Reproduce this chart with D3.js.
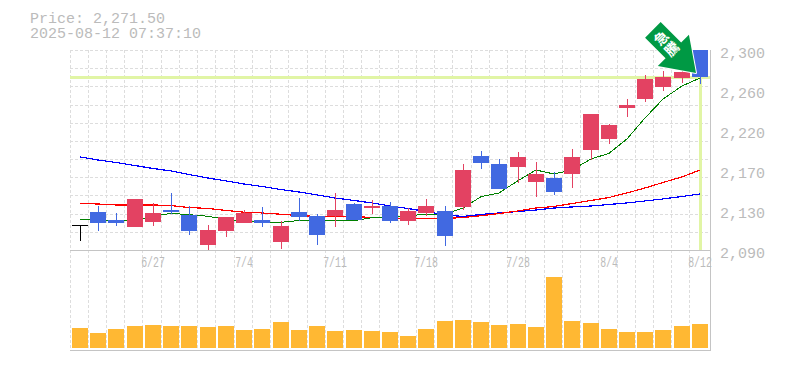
<!DOCTYPE html>
<html><head><meta charset="utf-8">
<script src="https://cdnjs.cloudflare.com/ajax/libs/d3/7.8.5/d3.min.js"></script>
<style>html,body{margin:0;padding:0;background:#fff}svg{display:block}text{font-family:"Liberation Mono",monospace;fill:#bbb}</style>
</head><body><svg id="c" width="785" height="370"></svg>
<script>
const dates=["6/20","6/23","6/24","6/25","6/26","6/27","6/30","7/1","7/2","7/4","7/7","7/8","7/9","7/10","7/11","7/14","7/15","7/16","7/17","7/18","7/22","7/23","7/24","7/25","7/28","7/29","7/30","7/31","8/1","8/4","8/5","8/6","8/7","8/8","8/12"];
const opens=[2116.3,2129.9,2121.5,2114.2,2119.4,2132,2126.8,2095.3,2110,2118.4,2121.5,2098.4,2129.9,2125.7,2125.7,2138.3,2134.1,2136.2,2120.5,2128.9,2131,2135.2,2188.7,2180.3,2177.2,2161.4,2165.6,2169.8,2195,2206.6,2239.1,2248.5,2261.2,2270.6,2300];
const highs=[2116.3,2136.2,2128.9,2143.6,2139.4,2149.9,2136.2,2116.3,2124.7,2132,2135.2,2120.5,2144.6,2127.8,2149.9,2139.4,2142.5,2140.4,2134.1,2143.6,2136.2,2180.3,2194,2185.6,2192.9,2182.4,2171.9,2196.1,2232.8,2222.3,2248.5,2273.8,2278,2284.3,2300];
const lows=[2099.5,2110,2115.5,2114.2,2115.2,2127.8,2105.8,2089,2103.7,2118.4,2114.2,2091.1,2120.5,2095.3,2114.2,2121.5,2127.8,2118.4,2116.3,2125.7,2094.2,2132,2175.1,2154.1,2160.4,2145.7,2147.8,2155.1,2184.5,2201.3,2229.7,2245.5,2257,2265.3,2264.3];
const closes=[2116.3,2118.7,2118.4,2143.6,2128.9,2129.6,2110,2111,2124.7,2128.9,2118.4,2115.2,2124.7,2105.8,2132,2121.5,2136.2,2120.5,2131,2136.2,2104.7,2174,2181.4,2154.1,2187.7,2169.8,2150.9,2187.7,2232.8,2221.3,2242.3,2269.5,2271.5,2277,2271.5];
const maShort=[2122.2,2121.5,2120.8,2121.5,2125.2,2128.5,2127.1,2125.4,2122,2120.5,2119.4,2119.1,2121,2120.8,2120.8,2120.8,2123.9,2124.1,2125.7,2127.8,2127.8,2134.1,2146,2149.9,2162.8,2174,2169.8,2174,2185.6,2191.5,2206.6,2228.6,2248.5,2262.2,2270.6];
const maMid=[2139,2138.3,2137.3,2137.3,2137.3,2136.7,2134.6,2133.6,2131.5,2129.7,2128.9,2127.5,2126.2,2125.2,2125.2,2124.9,2124.3,2123.6,2123.1,2123.1,2123.1,2124.1,2126,2128.3,2131,2134.1,2135.7,2138.8,2142,2145.1,2149.9,2155.1,2160.9,2166.7,2174];
const maLong=[2187.7,2184.5,2181.9,2178.7,2175.6,2173,2169.3,2165.6,2162.5,2159.3,2156.7,2153.5,2150.9,2147.8,2144.6,2142,2139.4,2136.2,2133.6,2130.4,2126.8,2125.2,2127.3,2128.9,2130.4,2132,2134.1,2135.2,2136.2,2137.8,2139.4,2141.5,2143.6,2146.2,2148.8];
const volumes=[20,15,19,22,23,22,22,21,22,18,19,26,18,22,17,18,17,16,12,19,27,28,26,23,24,21,71,27,25,19,16,16,18,22,24];
const priceTicks=[2300,2258,2216,2174,2132,2090];
const dateLabels=[[4,"6/27"],[9,"7/4"],[14,"7/11"],[19,"7/18"],[24,"7/28"],[29,"8/4"],[34,"8/12"]];
const currentPrice=2271.5;
const headerLines=["Price: 2,271.50","2025-08-12 07:37:10"];
const badgeText="急騰";

const svg=d3.select("#c");
const idx=d3.range(dates.length);
const x=d3.scaleBand().domain(idx).range([70,708.2]);
const y=d3.scaleLinear().domain([2090,2300]).range([250,50]);
const yv=d3.scaleLinear().domain([0,100]).range([348,248]);
const bx=i=>Math.round(x(i)+2), cx=i=>bx(i)+8;

const grid=svg.append("g").attr("stroke","#ddd").attr("stroke-dasharray","3 2").attr("shape-rendering","crispEdges");
d3.range(11).forEach(k=>{const v=2300-k*210/11;
 grid.append("line").attr("x1",70).attr("x2",710).attr("y1",Math.round(y(v))+.5).attr("y2",Math.round(y(v))+.5);});
idx.forEach(i=>{const g=Math.floor(x(i))+.5;grid.append("line").attr("x1",g).attr("x2",g).attr("y1",50).attr("y2",350);});

const hl=svg.append("g").attr("stroke","#e1f5a5").attr("shape-rendering","crispEdges");
hl.append("line").attr("x1",70).attr("x2",710).attr("y1",y(currentPrice)).attr("y2",y(currentPrice)).attr("stroke-width",3);
hl.append("line").attr("x1",cx(34)+.5).attr("x2",cx(34)+.5).attr("y1",y(currentPrice)).attr("y2",250).attr("stroke-width",3);

const line=d3.line().x((d,i)=>cx(i)).y(d=>y(d));
[[maLong,"#0000ff",1.2],[maMid,"#ff0000",1.2],[maShort,"#008000",1]].forEach(([s,c,w])=>{
 svg.append("path").attr("d",line(s)).attr("fill","none").attr("stroke",c).attr("stroke-width",w).attr("shape-rendering","crispEdges");
});

const col=i=>i==0?"#000":closes[i]>opens[i]?"#e34262":"#4169e1";
const cg=svg.append("g").attr("shape-rendering","crispEdges");
idx.forEach(i=>{
 cg.append("line").attr("x1",cx(i)+.5).attr("x2",cx(i)+.5).attr("y1",y(highs[i])).attr("y2",y(lows[i])).attr("stroke",col(i)).attr("stroke-width",1);
 const t=y(Math.max(opens[i],closes[i])),b=y(Math.min(opens[i],closes[i]));
 cg.append("rect").attr("x",bx(i)).attr("width",16).attr("y",t).attr("height",Math.max(1,b-t)).attr("fill",col(i));
});

const vg=svg.append("g").attr("shape-rendering","crispEdges");
idx.forEach(i=>vg.append("rect").attr("x",bx(i)).attr("width",16).attr("y",yv(volumes[i])).attr("height",348-yv(volumes[i])).attr("fill","#ffb833"));

const fr=svg.append("g").attr("stroke","#c4c4c4").attr("stroke-width",1).attr("shape-rendering","crispEdges");
[250.5,350.5].forEach(v=>fr.append("line").attr("x1",70).attr("x2",710).attr("y1",v).attr("y2",v));
fr.append("line").attr("x1",710.5).attr("x2",710.5).attr("y1",50).attr("y2",351);

const ax=d3.axisRight(y).tickValues(priceTicks).tickSize(0).tickPadding(0)
 .tickFormat(v=>d3.format(",")(Math.round(v/10)*10));
const ag=svg.append("g").attr("transform","translate(720,3)").call(ax);
ag.select(".domain").remove();
ag.selectAll("text").style("font-family",'"Liberation Mono",monospace').style("font-size","15px").attr("fill","#bbb");

dateLabels.forEach(([i,t])=>svg.append("text").attr("text-anchor","middle").attr("font-size",14.5)
 .attr("transform",`translate(${cx(i)},267) scale(0.68,1)`).text(t));

headerLines.forEach((t,k)=>svg.append("text").attr("x",30).attr("y",[23,38][k]).attr("font-size",15).text(t));

const arrow=svg.append("g").attr("transform","translate(696,73) rotate(-45)");
const shape=[[0,0],[-22,-32],[-11,-32],[-11,-61],[11,-61],[11,-32],[22,-32]];
arrow.append("path").attr("d",d3.line()(shape)+"Z").attr("fill","#009944").attr("stroke","#fff").attr("stroke-width",2).attr("stroke-linejoin","round").attr("paint-order","stroke");
arrow.selectAll("text").data(badgeText).enter().append("text").attr("x",0).attr("y",(d,i)=>-44+i*15)
 .attr("text-anchor","middle").attr("font-size",14).attr("font-weight","bold").style("font-family",'"Noto Sans CJK JP"').style("fill","#fff").text(d=>d);
</script></body></html>
